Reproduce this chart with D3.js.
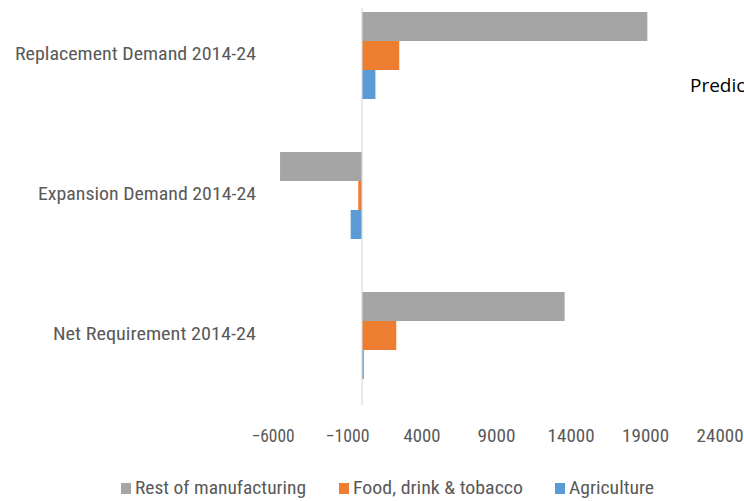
<!DOCTYPE html>
<html>
<head>
<meta charset="utf-8">
<script src="https://cdn.jsdelivr.net/npm/d3@7"></script>
<style>
  html, body { margin: 0; padding: 0; background: #fff; overflow: hidden; }
  svg { display: block; }
  text { font-family: "Liberation Sans Narrow", "Roboto Condensed", "Open Sans", sans-serif; }
</style>
</head>
<body>
<svg id="chart" width="744" height="501"></svg>
<script>
// ---- data ----
const categories = ["Replacement Demand 2014-24", "Expansion Demand 2014-24", "Net Requirement 2014-24"];
const seriesNames = ["Rest of manufacturing", "Food, drink & tobacco", "Agriculture"];
const restOfManufacturing = [19150, -5500, 13600];
const foodDrinkTobacco = [2500, -250, 2300];
const agriculture = [900, -760, 120];
const tickValues = [-6000, -1000, 4000, 9000, 14000, 19000, 24000];
const titleText = "Predic";

// ---- style ----
const colors = ["#A5A5A5", "#ED7D31", "#5B9BD5"];
const textColor = "#595959";
const labelWidths = { "Replacement Demand 2014-24": 241, "Expansion Demand 2014-24": 218, "Net Requirement 2014-24": 203 };
const tickWidths = { "-6000": 43, "-1000": 44, "4000": 37, "9000": 38, "14000": 47, "19000": 47, "24000": 47 };
const legendWidths = { "Rest of manufacturing": 171, "Food, drink & tobacco": 170, "Agriculture": 85 };

const seriesValues = [restOfManufacturing, foodDrinkTobacco, agriculture];
const rows = categories.map((c, i) => ({ cat: c, vals: seriesValues.map((s, j) => ({ name: seriesNames[j], v: s[i], j })) }));

const svg = d3.select("#chart");

const x = d3.scaleLinear().domain([-6000, 24000]).range([272.6, 719.6]);
const y = d3.scaleBand().domain(categories).range([-14.5, 405.5]).paddingInner(0).paddingOuter(0);
const inner = d3.scaleBand().domain(seriesNames).range([26.5, 113.5]);

// bars
const g = svg.append("g");
const groups = g.selectAll("g.cat").data(rows).join("g")
  .attr("transform", d => `translate(0,${y(d.cat)})`);
groups.selectAll("rect").data(d => d.vals).join("rect")
  .attr("x", d => x(Math.min(0, d.v)))
  .attr("width", d => Math.max(1, Math.abs(x(d.v) - x(0))))
  .attr("y", d => inner(d.name))
  .attr("height", inner.bandwidth())
  .attr("fill", d => colors[d.j]);

// vertical axis line at zero
svg.append("line")
  .attr("x1", x(0)).attr("x2", x(0))
  .attr("y1", 8).attr("y2", 405)
  .attr("stroke", "#D9D9D9").attr("stroke-width", 1.2);

// category labels
svg.append("g").selectAll("text").data(categories).join("text")
  .attr("x", 256)
  .attr("y", d => y(d) + y.bandwidth() / 2 + 4)
  .attr("text-anchor", "end")
  .attr("fill", textColor)
  .attr("font-size", 18)
  .attr("textLength", d => labelWidths[d])
  .attr("lengthAdjust", "spacingAndGlyphs")
  .text(d => d);

// x tick labels via d3 axis
const xAxis = d3.axisBottom(x).tickValues(tickValues).tickSize(0).tickPadding(0).tickFormat(d3.format("d"));
const ax = svg.append("g").attr("transform", "translate(0,429)").call(xAxis);
ax.select(".domain").remove();
ax.selectAll("text")
  .attr("fill", textColor)
  .attr("font-size", 18)
  .attr("dy", "0.71em")
  .attr("textLength", d => tickWidths[String(d)])
  .attr("lengthAdjust", "spacingAndGlyphs")
  .style("font-family", '"Liberation Sans Narrow", "Roboto Condensed", "Open Sans", sans-serif');

// legend
const legendX = [121, 339, 555];
const leg = svg.append("g").selectAll("g").data(seriesNames).join("g")
  .attr("transform", (d, i) => `translate(${legendX[i]},0)`);
leg.append("rect").attr("x", 0).attr("y", 483).attr("width", 10).attr("height", 11)
  .attr("fill", (d, i) => colors[i]);
leg.append("text").attr("x", 14).attr("y", 494)
  .attr("fill", textColor).attr("font-size", 18)
  .attr("textLength", d => legendWidths[d])
  .attr("lengthAdjust", "spacingAndGlyphs")
  .text(d => d);

// title (cut off at right edge in the original)
svg.append("text").attr("x", 690).attr("y", 92)
  .attr("fill", "#000").attr("font-size", 19)
  .style("font-family", '"Open Sans", "Noto Sans", sans-serif')
  .text(titleText);
</script>
</body>
</html>
